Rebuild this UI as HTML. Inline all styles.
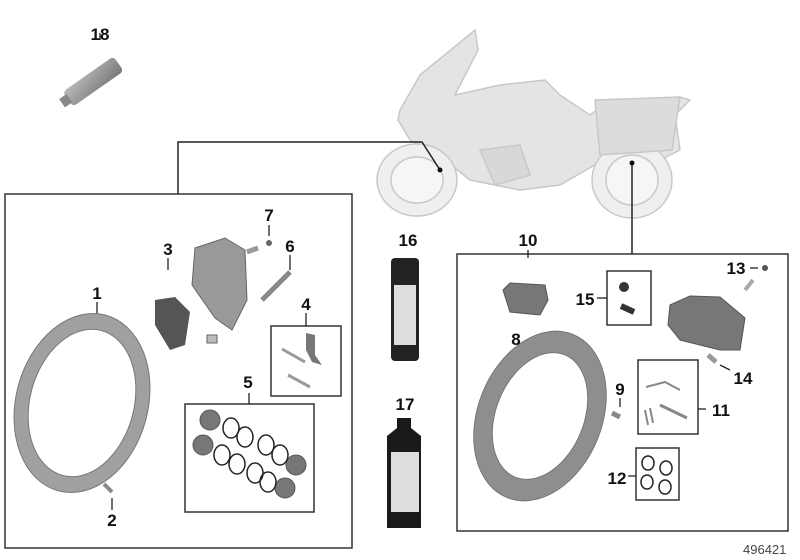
<!DOCTYPE html>
<html><head><style>
body{margin:0;background:#fff}
svg{display:block}
text{font-family:"Liberation Sans",sans-serif;font-weight:bold;font-size:17px;fill:#111}
</style></head><body>
<svg width="800" height="560" viewBox="0 0 800 560">
<defs>
<linearGradient id="g1" x1="0" y1="0" x2="1" y2="1"><stop offset="0" stop-color="#bbb"/><stop offset="1" stop-color="#777"/></linearGradient>
</defs>
<!-- motorcycle -->
<g fill="#e4e4e4" stroke="#c8c8c8" stroke-width="1.5">
<path d="M400 110 L420 75 L475 30 L478 50 L455 95 L500 85 L545 80 L560 95 L590 115 L610 100 L680 97 L690 100 L675 115 L680 150 L660 160 L600 162 L560 185 L520 190 L470 180 L445 160 L410 140 L398 120Z"/>
<ellipse cx="417" cy="180" rx="40" ry="36" fill="#efefef"/>
<ellipse cx="417" cy="180" rx="26" ry="23" fill="#f6f6f6"/>
<ellipse cx="632" cy="180" rx="40" ry="38" fill="#efefef"/>
<ellipse cx="632" cy="180" rx="26" ry="25" fill="#f6f6f6"/>
<path d="M595 100 L680 97 L672 150 L600 155Z" fill="#dcdcdc"/>
<path d="M480 150 L520 145 L530 175 L495 185Z" fill="#d8d8d8"/>
</g>
<!-- connectors -->
<g stroke="#222" stroke-width="1.5" fill="none">
<polyline points="178,194 178,142 422,142 440,170"/>
<line x1="632" y1="163" x2="632" y2="254"/>
</g>
<circle cx="440" cy="170" r="2.5" fill="#111"/>
<circle cx="632" cy="163" r="2.5" fill="#111"/>
<!-- boxes -->
<g stroke="#333" stroke-width="1.5" fill="none">
<rect x="5" y="194" width="347" height="354"/>
<rect x="457" y="254" width="331" height="277"/>
<rect x="271" y="326" width="70" height="70"/>
<rect x="185" y="404" width="129" height="108"/>
<rect x="607" y="271" width="44" height="54"/>
<rect x="638" y="360" width="60" height="74"/>
<rect x="636" y="448" width="43" height="52"/>
</g>
<!-- leader lines -->
<g stroke="#222" stroke-width="1.3">
<line x1="100" y1="33" x2="100" y2="40"/>
<line x1="97" y1="302" x2="97" y2="315"/>
<line x1="112" y1="498" x2="112" y2="510"/>
<line x1="168" y1="258" x2="168" y2="270"/>
<line x1="269" y1="225" x2="269" y2="236"/>
<line x1="290" y1="255" x2="290" y2="270"/>
<line x1="306" y1="313" x2="306" y2="326"/>
<line x1="249" y1="393" x2="249" y2="404"/>
<line x1="528" y1="250" x2="528" y2="258"/>
<line x1="597" y1="298" x2="607" y2="298"/>
<line x1="750" y1="268" x2="758" y2="268"/>
<line x1="517" y1="348" x2="517" y2="356"/>
<line x1="620" y1="398" x2="620" y2="407"/>
<line x1="720" y1="365" x2="730" y2="370"/>
<line x1="698" y1="409" x2="706" y2="409"/>
<line x1="628" y1="476" x2="636" y2="476"/>
</g>
<!-- tube 18 -->
<g transform="rotate(-35 97 80)"><rect x="62" y="70" width="62" height="18" rx="4" fill="url(#g1)"/><rect x="55" y="74" width="9" height="10" fill="#888"/></g>
<!-- disc left -->
<g transform="rotate(15 82 403)">
<ellipse cx="82" cy="403" rx="66" ry="91" fill="#a0a0a0" stroke="#777"/>
<ellipse cx="82" cy="403" rx="52" ry="75" fill="#fff" stroke="#777"/>
</g>
<!-- disc right -->
<g transform="rotate(22 540 416)">
<ellipse cx="540" cy="416" rx="62" ry="88" fill="#8e8e8e" stroke="#777"/>
<ellipse cx="540" cy="416" rx="44" ry="66" fill="#fff" stroke="#777"/>
</g>
<!-- caliper left -->
<path d="M195 248 L225 238 L245 250 L247 300 L232 330 L215 318 L192 285Z" fill="#999" stroke="#666"/>
<path d="M155 300 L175 297 L190 312 L185 345 L170 350 L155 325Z" fill="#555"/>
<rect x="207" y="335" width="10" height="8" fill="#bbb" stroke="#666"/>
<line x1="262" y1="300" x2="290" y2="272" stroke="#888" stroke-width="5"/>
<circle cx="269" cy="243" r="3" fill="#666"/>
<line x1="247" y1="252" x2="258" y2="248" stroke="#999" stroke-width="5"/>
<!-- kit 4 -->
<g stroke="#999" stroke-width="3"><line x1="282" y1="349" x2="305" y2="362"/><line x1="288" y1="375" x2="310" y2="387"/></g>
<path d="M306 333 L315 335 L315 355 L322 365 L312 362 L306 350Z" fill="#777"/>
<!-- pistons 5 -->
<g fill="#777" stroke="#555"><circle cx="210" cy="420" r="10"/><circle cx="203" cy="445" r="10"/><circle cx="296" cy="465" r="10"/><circle cx="285" cy="488" r="10"/></g>
<g fill="none" stroke="#222" stroke-width="1.5">
<ellipse cx="231" cy="428" rx="8" ry="10"/><ellipse cx="245" cy="437" rx="8" ry="10"/>
<ellipse cx="222" cy="455" rx="8" ry="10"/><ellipse cx="237" cy="464" rx="8" ry="10"/>
<ellipse cx="266" cy="445" rx="8" ry="10"/><ellipse cx="280" cy="455" rx="8" ry="10"/>
<ellipse cx="255" cy="473" rx="8" ry="10"/><ellipse cx="268" cy="482" rx="8" ry="10"/>
</g>
<line x1="104" y1="484" x2="112" y2="492" stroke="#888" stroke-width="4"/>
<!-- can 16 -->
<rect x="391" y="258" width="28" height="103" rx="4" fill="#222"/>
<rect x="394" y="285" width="22" height="60" fill="#ddd"/>
<!-- bottle 17 -->
<path d="M397 418 h14 v10 l10 8 v92 h-34 v-92 l10 -8z" fill="#1a1a1a"/>
<rect x="391" y="452" width="28" height="60" fill="#ddd"/>
<!-- right parts -->
<path d="M503 290 L510 283 L545 285 L548 300 L540 315 L510 312Z" fill="#777" stroke="#555"/>
<circle cx="624" cy="287" r="5" fill="#333"/>
<line x1="621" y1="306" x2="634" y2="312" stroke="#333" stroke-width="6"/>
<path d="M670 305 L690 296 L720 297 L745 318 L740 350 L720 350 L680 340 L668 325Z" fill="#777" stroke="#555"/>
<line x1="708" y1="355" x2="716" y2="362" stroke="#999" stroke-width="5"/>
<circle cx="765" cy="268" r="3" fill="#555"/>
<line x1="745" y1="290" x2="753" y2="280" stroke="#aaa" stroke-width="4"/>
<line x1="612" y1="413" x2="620" y2="417" stroke="#888" stroke-width="5"/>
<g stroke="#888" stroke-width="2" fill="none"><path d="M646 387 L665 382 L680 390"/><line x1="660" y1="405" x2="687" y2="418" stroke-width="3"/><path d="M645 410 L648 425 M650 408 L653 423"/></g>
<g fill="none" stroke="#222" stroke-width="1.5">
<ellipse cx="648" cy="463" rx="6" ry="7"/><ellipse cx="647" cy="482" rx="6" ry="7"/>
<ellipse cx="666" cy="468" rx="6" ry="7"/><ellipse cx="665" cy="487" rx="6" ry="7"/>
</g>
<!-- labels -->
<g text-anchor="middle">
<text x="100" y="40">18</text>
<text x="97" y="299">1</text>
<text x="112" y="526">2</text>
<text x="168" y="255">3</text>
<text x="269" y="221">7</text>
<text x="290" y="252">6</text>
<text x="306" y="310">4</text>
<text x="248" y="388">5</text>
<text x="408" y="246">16</text>
<text x="405" y="410">17</text>
<text x="528" y="246">10</text>
<text x="585" y="305">15</text>
<text x="736" y="274">13</text>
<text x="516" y="345">8</text>
<text x="620" y="395">9</text>
<text x="743" y="384">14</text>
<text x="721" y="416">11</text>
<text x="617" y="484">12</text>
</g>
<text x="743" y="554" style="font-weight:normal;font-size:13px;fill:#444">496421</text>
</svg>
</body></html>
